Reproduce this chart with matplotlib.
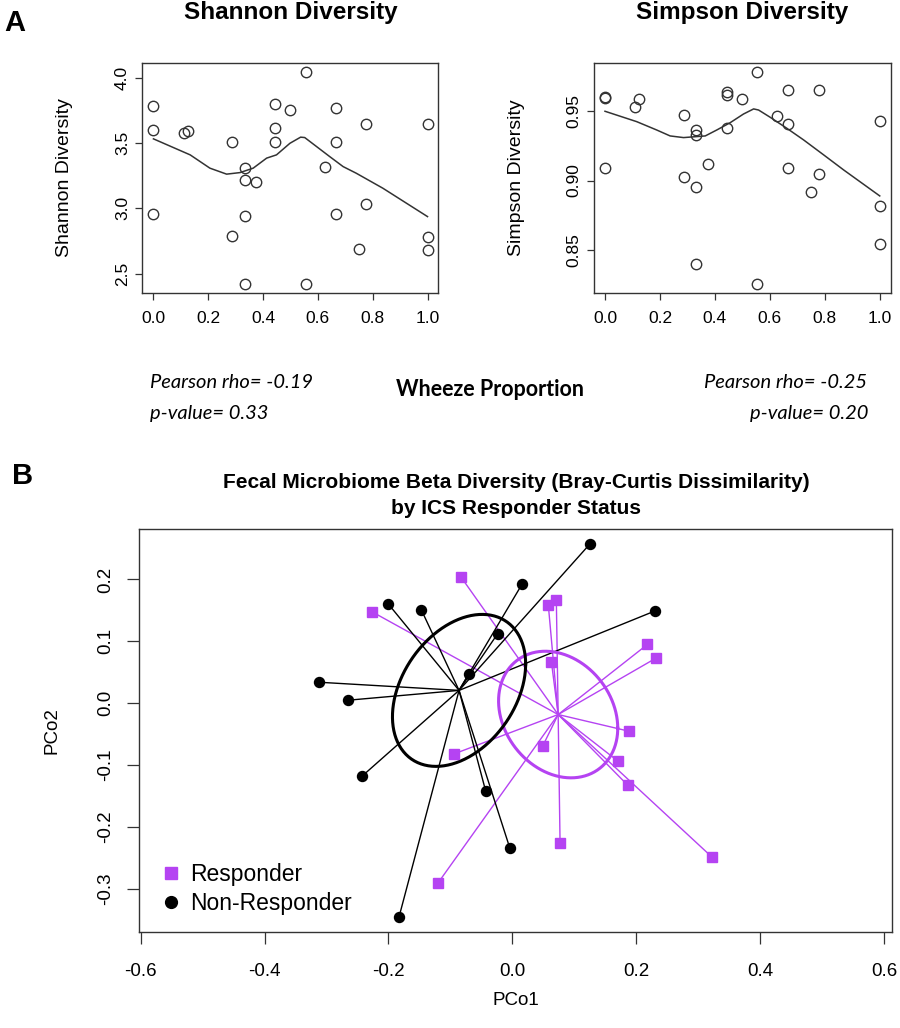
import numpy as np
import matplotlib
matplotlib.use("Agg")
import matplotlib.pyplot as plt
from matplotlib.lines import Line2D

# ----------------------------------
# DATA
# ----------------------------------

# Panel A - Shannon diversity vs wheeze proportion
shannon_x = [0.0, 0.0, 0.0, 0.113, 0.127, 0.287, 0.287, 0.334, 0.334, 0.374,
             0.334, 0.334, 0.444, 0.444, 0.444, 0.50, 0.556, 0.556, 0.626,
             0.666, 0.666, 0.666, 0.777, 0.777, 0.749, 1.0, 1.0, 1.0]
shannon_y = [3.79, 3.60, 2.958, 3.58, 3.595, 3.51, 2.79, 3.31, 3.217, 3.206,
             2.94, 2.418, 3.80, 3.616, 3.51, 3.754, 4.048, 2.418, 3.316,
             3.772, 3.513, 2.958, 3.646, 3.035, 2.69, 3.649, 2.779, 2.679]
# smoother drawn through the Shannon points
shannon_fit_x = [0.0, 0.134, 0.206, 0.267, 0.316, 0.364, 0.413, 0.449, 0.498,
                 0.537, 0.552, 0.595, 0.643, 0.692, 0.740, 0.837, 1.0]
shannon_fit_y = [3.534, 3.411, 3.309, 3.263, 3.275, 3.309, 3.386, 3.411, 3.50,
                 3.547, 3.544, 3.475, 3.398, 3.321, 3.27, 3.155, 2.937]

# Panel A - Simpson diversity vs wheeze proportion
simpson_x = [0.0, 0.0, 0.0, 0.111, 0.124, 0.286, 0.286, 0.332, 0.332, 0.332,
             0.332, 0.374, 0.445, 0.445, 0.445, 0.4995, 0.555, 0.555, 0.625,
             0.666, 0.666, 0.666, 0.778, 0.778, 0.75, 1.0, 1.0, 1.0]
simpson_y = [0.9598, 0.9602, 0.909, 0.9533, 0.9589, 0.9473, 0.9024, 0.9365,
             0.9329, 0.8956, 0.8396, 0.912, 0.9637, 0.9618, 0.938, 0.9589,
             0.9784, 0.8252, 0.9466, 0.9654, 0.9411, 0.9089, 0.9654, 0.9045,
             0.892, 0.9432, 0.8819, 0.8545]
simpson_fit_x = [0.0, 0.1155, 0.188, 0.237, 0.286, 0.332, 0.365, 0.407, 0.456,
                 0.504, 0.541, 0.559, 0.601, 0.662, 0.723, 0.796, 0.869, 1.0]
simpson_fit_y = [0.95, 0.9425, 0.9365, 0.9322, 0.931, 0.9317, 0.9322, 0.9365,
                 0.9418, 0.948, 0.9517, 0.9509, 0.9457, 0.9377, 0.9293,
                 0.9185, 0.9076, 0.8889]

# Panel B - PCoA coordinates
resp_pc1 = [-0.083, -0.227, -0.095, 0.058, 0.071, 0.063, 0.218, 0.232, 0.188,
            0.049, 0.170, 0.186, 0.077, 0.322, -0.120]
resp_pc2 = [0.204, 0.148, -0.082, 0.159, 0.166, 0.067, 0.095, 0.073, -0.045,
            -0.069, -0.093, -0.132, -0.225, -0.248, -0.290]
nonresp_pc1 = [-0.200, -0.147, -0.312, -0.265, -0.070, -0.024, -0.242, 0.125,
               0.016, 0.230, -0.043, -0.004, -0.183]
nonresp_pc2 = [0.160, 0.151, 0.034, 0.005, 0.048, 0.112, -0.117, 0.257,
               0.193, 0.149, -0.142, -0.234, -0.345]

W, H = 900, 1028
PURPLE = "#B543F2"
SANS = "Liberation Sans"
CAL = "Lato"

plt.rcParams["font.family"] = [SANS, "DejaVu Sans"]


def fig_xy(px, py):
    return px / W, 1 - py / H


def se_ellipse(x, y, conf_scale=2.4477, n_pts=200):
    """ordiellipse(kind='se', conf=0.95) style ellipse."""
    x = np.asarray(x)
    y = np.asarray(y)
    cov = np.cov(np.vstack([x, y])) / len(x)
    chol = np.linalg.cholesky(cov)
    t = np.linspace(0, 2 * np.pi, n_pts)
    circ = np.vstack([np.cos(t), np.sin(t)])
    pts = chol @ circ * conf_scale
    return x.mean() + pts[0], y.mean() + pts[1]


def style_box(ax, tick_len):
    for sp in ax.spines.values():
        sp.set_color("#333333")
        sp.set_linewidth(1.0)
    ax.tick_params(direction="out", length=tick_len, width=0.9,
                   color="#333333", labelsize=12.5)


def rotate_yticks(ax):
    for lab in ax.get_yticklabels():
        lab.set_rotation(90)
        lab.set_va("center")
        lab.set_ha("right")


fig = plt.figure(figsize=(W / 100, H / 100), dpi=100)

# ----------------------------------
# PANEL A
# ----------------------------------

ax1 = fig.add_axes([0.1583, 0.7153, 0.3289, 0.2230])
ax2 = fig.add_axes([0.66, 0.7153, 0.3297, 0.2230])

for ax, xs, ys, fx, fy, yt, ylab in [
    (ax1, shannon_x, shannon_y, shannon_fit_x, shannon_fit_y,
     [2.5, 3.0, 3.5, 4.0], "Shannon Diversity"),
    (ax2, simpson_x, simpson_y, simpson_fit_x, simpson_fit_y,
     [0.85, 0.90, 0.95], "Simpson Diversity"),
]:
    ax.plot(xs, ys, "o", mfc="none", mec="#333333", ms=7.5, mew=1.0)
    ax.plot(fx, fy, color="#333333", lw=1.1)
    ax.margins(0.04)
    ax.set_xticks([0.0, 0.2, 0.4, 0.6, 0.8, 1.0])
    ax.set_xticklabels(["0.0", "0.2", "0.4", "0.6", "0.8", "1.0"])
    ax.set_yticks(yt)
    ax.set_yticklabels([f"{v:.1f}" if ax is ax1 else f"{v:.2f}" for v in yt])
    style_box(ax, 5)
    ax.tick_params(axis="x", pad=8)
    ax.tick_params(axis="y", pad=4)
    rotate_yticks(ax)
    ax.set_ylabel(ylab, fontsize=14, labelpad=30)
    ax.set_title(ylab, fontsize=17.5, fontweight="bold", pad=32)

fig.text(*fig_xy(4, 23), "A", fontsize=21, fontweight="bold",
         ha="left", va="center")

txt_font = [CAL, "DejaVu Sans"]
fig.text(*fig_xy(150, 383), "Pearson rho= -0.19", family=txt_font,
         style="italic", fontsize=14.5, ha="left", va="center")
fig.text(*fig_xy(150, 414), "p-value= 0.33", family=txt_font,
         style="italic", fontsize=14.5, ha="left", va="center")
fig.text(*fig_xy(490, 390), "Wheeze Proportion", family=txt_font,
         fontweight="bold", fontsize=15.5, ha="center", va="center")
fig.text(*fig_xy(704, 383), "Pearson rho= -0.25", family=txt_font,
         style="italic", fontsize=14.5, ha="left", va="center")
fig.text(*fig_xy(868, 414), "p-value= 0.20", family=txt_font,
         style="italic", fontsize=14.5, ha="right", va="center")

# ----------------------------------
# PANEL B
# ----------------------------------

ax3 = fig.add_axes([0.1548, 0.0937, 0.8367, 0.3917])

groups = [
    (resp_pc1, resp_pc2, PURPLE, "s", 6.5),
    (nonresp_pc1, nonresp_pc2, "black", "o", 7.2),
]
for xs, ys, col, mk, ms in groups:
    cx, cy = np.mean(xs), np.mean(ys)
    for x, y in zip(xs, ys):
        ax3.plot([cx, x], [cy, y], color=col, lw=1.0, zorder=2)
    ex, ey = se_ellipse(xs, ys)
    ax3.plot(ex, ey, color=col, lw=2.2, zorder=3)
    ax3.plot(xs, ys, mk, color=col, ms=ms, mec=col, zorder=4)

ax3.set_xlim(-0.6023, 0.6135)
ax3.set_ylim(-0.3687, 0.2814)
ax3.set_xticks([-0.6, -0.4, -0.2, 0.0, 0.2, 0.4, 0.6])
ax3.set_xticklabels(["-0.6", "-0.4", "-0.2", "0.0", "0.2", "0.4", "0.6"])
ax3.set_yticks([-0.3, -0.2, -0.1, 0.0, 0.1, 0.2])
ax3.set_yticklabels(["-0.3", "-0.2", "-0.1", "0.0", "0.1", "0.2"])
style_box(ax3, 8.4)
ax3.tick_params(labelsize=13.5)
ax3.tick_params(axis="x", pad=14)
ax3.tick_params(axis="y", pad=10)
rotate_yticks(ax3)
ax3.set_xlabel("PCo1", fontsize=13.5, labelpad=9)
ax3.set_ylabel("PCo2", fontsize=13.5, labelpad=26)
ax3.set_title("Fecal Microbiome Beta Diversity (Bray-Curtis Dissimilarity)\n"
              "by ICS Responder Status", fontsize=15, fontweight="bold",
              pad=11, linespacing=1.45)

handles = [
    Line2D([], [], ls="none", marker="s", color=PURPLE, ms=8.5),
    Line2D([], [], ls="none", marker="o", color="black", ms=8.5),
]
ax3.legend(handles, ["Responder", "Non-Responder"], loc="lower left",
           bbox_to_anchor=(0.0, -0.01), frameon=False, fontsize=16.5,
           handletextpad=0.3, labelspacing=0.25, handlelength=1.0,
           borderpad=0.4)

fig.text(*fig_xy(12, 476), "B", fontsize=21, fontweight="bold",
         ha="left", va="center")

fig.savefig("out.png", dpi=100)
